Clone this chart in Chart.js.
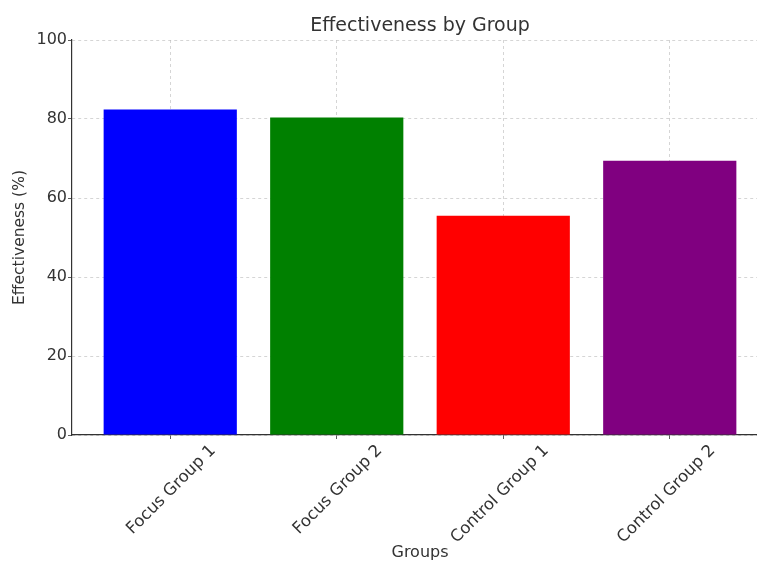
<!DOCTYPE html>
<html lang="en">
<head>
    <meta charset="UTF-8">
    <title>Effectiveness by Group</title>
    <script src="https://cdn.jsdelivr.net/npm/chart.js"></script>
    <style>
        body { margin: 0; overflow: hidden; background: #fff; }
        .grafico { width: 768px; height: 561px; }
    </style>
</head>
<body>
    <div class="grafico">
        <canvas id="chartBar"></canvas>
    </div>

<script>
    // dados
    var grupos = ['Focus Group 1', 'Focus Group 2', 'Control Group 1', 'Control Group 2'];
    var efetividade = [82.4, 80.4, 55.5, 69.4];
    var cores = ['#0000ff', '#008000', '#ff0000', '#800080'];
    var ticksY = [0, 20, 40, 60, 80, 100];

    var pontos = [];
    for (var i = 0; i < grupos.length; i++) {
        pontos.push({ x: i, y: efetividade[i] });
    }

    var corTexto = '#333';
    var corGrade = 'rgba(185,185,185,0.75)';

    var ctxBar = document.getElementById('chartBar').getContext('2d');
    var configBar = {
        type: 'bar',
        data: {
            datasets: [{
                data: pontos,
                backgroundColor: cores,
                borderWidth: 0,
                categoryPercentage: 1,
                barPercentage: 0.8
            }]
        },
        options: {
            responsive: true,
            maintainAspectRatio: false,
            animation: false,
            layout: { padding: { left: 0, right: 0, top: 0, bottom: 0 } },
            plugins: {
                legend: { display: false },
                tooltip: { enabled: false },
                title: {
                    display: true,
                    fullSize: false,
                    text: 'Effectiveness by Group',
                    color: corTexto,
                    font: { family: 'DejaVu Sans', size: 19, weight: 'normal' },
                    padding: { top: 15, bottom: 2.2 }
                }
            },
            scales: {
                x: {
                    type: 'linear',
                    offset: false,
                    min: -0.59,
                    max: 3.59,
                    z: 1,
                    afterBuildTicks: function (scale) {
                        scale.ticks = grupos.map(function (g, i) { return { value: i }; });
                    },
                    afterFit: function (scale) { scale.height = 126; },
                    grid: {
                        offset: false,
                        color: corGrade,
                        lineWidth: 0.8,
                        drawTicks: true,
                        tickLength: 4,
                        tickColor: corTexto,
                        tickBorderDash: []
                    },
                    border: { display: true, color: corTexto, width: 1.2, dash: [3, 3] },
                    ticks: {
                        autoSkip: false,
                        maxRotation: 45,
                        minRotation: 45,
                        padding: 2,
                        labelOffset: 43,
                        color: corTexto,
                        font: { family: 'DejaVu Sans', size: 16.5 },
                        callback: function (v) { return grupos[v]; }
                    },
                    title: {
                        display: true,
                        text: 'Groups',
                        color: corTexto,
                        font: { family: 'DejaVu Sans', size: 16 },
                        padding: { top: 0, bottom: -1.5 }
                    }
                },
                y: {
                    min: 0,
                    max: 100,
                    z: 1,
                    afterBuildTicks: function (scale) {
                        scale.ticks = ticksY.map(function (v) { return { value: v }; });
                    },
                    afterFit: function (scale) { scale.width = 72; },
                    grid: {
                        color: corGrade,
                        lineWidth: 0.8,
                        tickLength: 4,
                        tickColor: corTexto,
                        tickBorderDash: []
                    },
                    border: { display: true, color: corTexto, width: 1.2, dash: [3, 3] },
                    ticks: {
                        padding: 1,
                        color: corTexto,
                        font: { family: 'DejaVu Sans', size: 16 }
                    },
                    title: {
                        display: true,
                        text: 'Effectiveness (%)',
                        color: corTexto,
                        font: { family: 'DejaVu Sans', size: 15.5 },
                        padding: { top: 10.7, bottom: 0 }
                    }
                }
            }
        }
    };

    var ax_chartBar = new Chart(ctxBar, configBar);
</script>
</body>
</html>
